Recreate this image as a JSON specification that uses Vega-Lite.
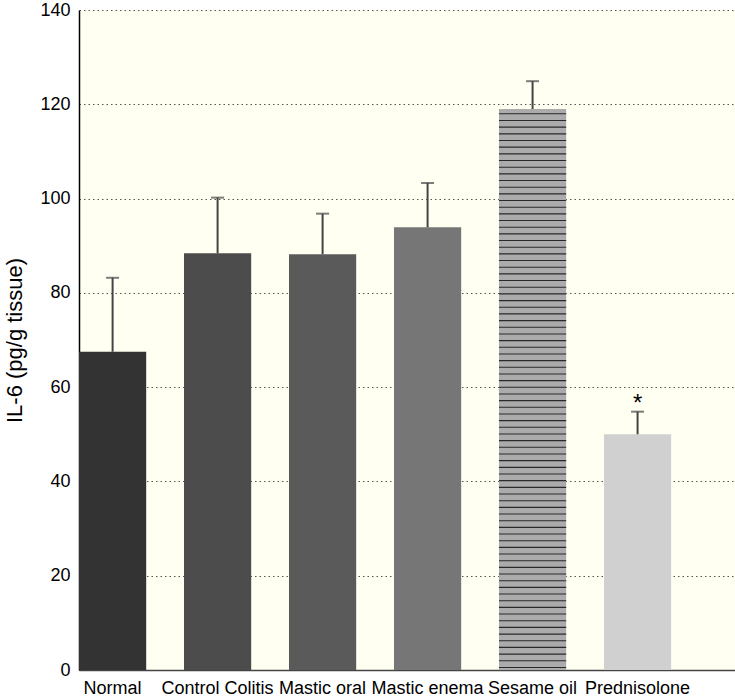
{
  "$schema": "https://vega.github.io/schema/vega-lite/v6.json",
  "width": 656,
  "height": 660,
  "autosize": {"type": "none"},
  "padding": {"left": 79, "top": 10, "right": 0, "bottom": 30},
  "background": "white",
  "config": {
    "font": "Liberation Sans",
    "view": {"stroke": null, "fill": "#fffff2"}
  },
  "data": {
    "values": [
      {"group": "Normal", "mean": 67.5, "upper": 83.2, "sig": ""},
      {"group": "Control Colitis", "mean": 88.4, "upper": 100.2, "sig": ""},
      {"group": "Mastic oral", "mean": 88.2, "upper": 96.8, "sig": ""},
      {"group": "Mastic enema", "mean": 93.9, "upper": 103.3, "sig": ""},
      {"group": "Sesame oil", "mean": 119.0, "upper": 124.9, "sig": ""},
      {"group": "Prednisolone", "mean": 50.0, "upper": 54.8, "sig": "*"}
    ]
  },
  "encoding": {
    "x": {
      "field": "group",
      "type": "nominal",
      "sort": null,
      "scale": {"paddingInner": 0.36, "paddingOuter": 0.304, "align": 0},
      "axis": {
        "title": null,
        "labelAngle": 0,
        "labelFontSize": 18,
        "labelColor": "black",
        "labelPadding": 9,
        "labelOverlap": false,
        "labelLimit": 300,
        "ticks": false,
        "domainColor": "#444",
        "domainWidth": 1.5
      }
    }
  },
  "layer": [
    {
      "mark": {"type": "bar"},
      "encoding": {
        "y": {
          "field": "mean",
          "type": "quantitative",
          "scale": {"domain": [0, 140], "nice": false},
          "axis": {
            "title": "IL-6 (pg/g tissue)",
            "titleFontSize": 22,
            "titleFontWeight": "normal",
            "titleColor": "black",
            "titlePadding": 13,
            "values": [0, 20, 40, 60, 80, 100, 120, 140],
            "labelFontSize": 18,
            "labelColor": "black",
            "labelPadding": 9,
            "ticks": false,
            "domainColor": "black",
            "domainWidth": 1.5,
            "grid": true,
            "gridColor": "#555",
            "gridDash": [1.5, 3],
            "gridWidth": 1
          }
        },
        "color": {
          "field": "group",
          "type": "nominal",
          "sort": null,
          "legend": null,
          "scale": {
            "domain": ["Normal", "Control Colitis", "Mastic oral", "Mastic enema", "Sesame oil", "Prednisolone"],
            "range": ["#333333", "#4c4c4c", "#5a5a5a", "#767676", "#ababab", "#d0d0d0"]
          }
        }
      }
    },
    {
      "transform": [{"filter": "datum.group === 'Sesame oil'"}],
      "mark": {"type": "rule", "color": "#2a2a2a", "strokeWidth": 67.2, "strokeDash": [1.1, 5.57], "strokeDashOffset": 2.4, "strokeCap": "butt"},
      "encoding": {
        "y": {"field": "mean", "type": "quantitative"},
        "y2": {"datum": 0}
      }
    },
    {
      "mark": {"type": "rule", "color": "#444", "strokeWidth": 2},
      "encoding": {
        "y": {"field": "mean", "type": "quantitative"},
        "y2": {"field": "upper"}
      }
    },
    {
      "mark": {"type": "tick", "orient": "horizontal", "size": 13, "thickness": 2, "color": "#444"},
      "encoding": {
        "y": {"field": "upper", "type": "quantitative"}
      }
    },
    {
      "mark": {"type": "text", "fontSize": 24, "color": "black", "dy": -8, "baseline": "middle"},
      "encoding": {
        "y": {"field": "upper", "type": "quantitative"},
        "text": {"field": "sig"}
      }
    }
  ]
}
